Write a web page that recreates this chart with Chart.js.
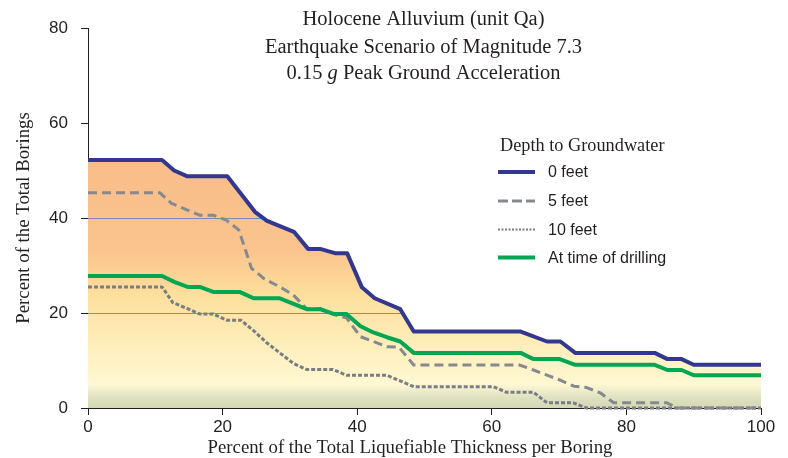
<!DOCTYPE html>
<html><head><meta charset="utf-8">
<script src="https://cdn.jsdelivr.net/npm/chart.js@4"></script>
<style>html,body{margin:0;padding:0;background:#fff}</style>
</head><body>
<canvas id="c" width="788" height="458"></canvas>
<script>
const titleLine1 = "Holocene Alluvium (unit Qa)";
const titleLine2 = "Earthquake Scenario of Magnitude 7.3";
const titleLine3 = ["0.15 ", "g", " Peak Ground Acceleration"];
const legendTitle = "Depth to Groundwater";
const seriesNames = ["0 feet", "5 feet", "10 feet", "At time of drilling"];
const xAxisTitle = "Percent of the Total Liquefiable Thickness per Boring";
const yAxisTitle = "Percent of the Total Borings";
const xTickValues = [0, 20, 40, 60, 80, 100];
const yTickValues = [0, 20, 40, 60, 80];

const feet0X = [0, 11, 12.8, 14.7, 20.7, 24.8, 26.6, 30.6, 32.7, 34.5, 36.7, 38.5, 40.7, 42.6, 46.4, 48.4, 64.3, 68.2, 70.2, 72.4, 84.2, 86.1, 88.2, 90, 100];
const feet0Y = [52.2, 52.2, 50.0, 48.8, 48.8, 41.3, 39.4, 37.1, 33.5, 33.5, 32.6, 32.6, 25.4, 23.1, 20.8, 16.1, 16.1, 14.0, 14.0, 11.6, 11.6, 10.3, 10.3, 9.1, 9.1];

const feet5X = [0, 10.7, 12.4, 14.7, 16.6, 18.6, 20.5, 22.4, 24.3, 26.2, 28.5, 30.5, 32.5, 34.5, 36.7, 38.4, 40.5, 42.4, 44.4, 46.2, 48.4, 64.1, 66.2, 68.2, 70.1, 72.2, 74.1, 76.1, 78.1, 86.0, 87.5, 100];
const feet5Y = [45.3, 45.3, 43.1, 41.7, 40.6, 40.6, 39.6, 37.5, 29.4, 27.2, 25.5, 23.8, 20.9, 20.9, 19.6, 19.0, 15.0, 14.0, 12.9, 12.8, 9.05, 9.05, 8.0, 6.9, 5.9, 4.6, 4.3, 3.2, 1.1, 1.1, 0, 0];

const feet10X = [0, 11, 12.6, 14.8, 16.6, 18.6, 20.6, 22.7, 24.6, 26.5, 28.5, 30.5, 32.5, 36.4, 38.4, 44.4, 46.4, 48.4, 60.2, 62.2, 66.2, 68.2, 72.1, 74.1, 100];
const feet10Y = [25.5, 25.5, 22.2, 20.9, 19.8, 19.8, 18.5, 18.5, 16.3, 13.8, 11.6, 9.4, 8.1, 8.1, 6.9, 6.9, 5.7, 4.5, 4.5, 3.3, 3.3, 1.1, 1.1, 0, 0];

const drillX = [0, 11, 12.9, 14.8, 16.6, 18.7, 22.6, 24.6, 28.5, 32.5, 34.5, 36.5, 38.4, 40.5, 42.4, 44.4, 46.4, 48.4, 64.3, 66.2, 70.1, 72.4, 84.2, 86.1, 88.2, 90, 100];
const drillY = [27.8, 27.8, 26.5, 25.5, 25.5, 24.4, 24.4, 23.1, 23.1, 20.8, 20.8, 19.8, 19.8, 17.2, 15.9, 14.9, 14.0, 11.6, 11.6, 10.3, 10.3, 9.1, 9.1, 8.0, 8.0, 6.9, 6.9];

const pts = (xs, ys) => xs.map((x, i) => ({ x: x, y: ys[i] }));

const SERIF = "'Liberation Serif', 'Times New Roman', serif";
const SANS = "'Liberation Sans', Arial, sans-serif";
const TEXT = '#231F20';

function areaGradient(ctx) {
  const chart = ctx.chart;
  const ys = chart.scales.y;
  if (!chart.chartArea || !ys) return '#FAC08E';
  const top = ys.getPixelForValue(55), bot = ys.getPixelForValue(0);
  const g = chart.ctx.createLinearGradient(0, top, 0, bot);
  const p = v => (ys.getPixelForValue(v) - top) / (bot - top);
  g.addColorStop(0, '#F9BC88');
  g.addColorStop(p(33), '#FAC48E');
  g.addColorStop(p(24), '#FDDF9C');
  g.addColorStop(p(14), '#FEEDB8');
  g.addColorStop(p(5), '#FFF8D3');
  g.addColorStop(p(3.4), '#EBEBCB');
  g.addColorStop(p(2.2), '#DFE1C1');
  g.addColorStop(1, '#D3D8B5');
  return g;
}

const gridUnderFill = {
  id: 'gridUnderFill',
  beforeDatasetsDraw(chart) {
    const meta = chart.getDatasetMeta(0);
    const ys = chart.scales.y, ca = chart.chartArea, ctx = chart.ctx;
    const d = meta.data;
    if (!d.length) return;
    ctx.save();
    ctx.beginPath();
    ctx.moveTo(d[0].x, d[0].y);
    d.forEach(p => ctx.lineTo(p.x, p.y));
    ctx.lineTo(d[d.length - 1].x, ca.bottom);
    ctx.lineTo(d[0].x, ca.bottom);
    ctx.closePath();
    ctx.clip();
    ctx.strokeStyle = '#7E8DB8';
    ctx.lineWidth = 1;
    ys.ticks.forEach(t => {
      if (t.value <= 0 || t.value >= 80) return;
      const y = Math.round(ys.getPixelForValue(t.value)) + 0.5;
      ctx.beginPath();
      ctx.moveTo(ca.left, y);
      ctx.lineTo(ca.right, y);
      ctx.stroke();
    });
    ctx.restore();
  }
};

const titleLegend = {
  id: 'titleLegend',
  afterDraw(chart) {
    const ctx = chart.ctx, ca = chart.chartArea;
    ctx.save();
    ctx.fillStyle = TEXT;
    ctx.textBaseline = 'middle';
    const cx = (ca.left + ca.right) / 2 - 1;
    const tf = '20.5px ' + SERIF, tfi = 'italic 20.5px ' + SERIF;
    ctx.font = tf; ctx.textAlign = 'center';
    ctx.fillText(titleLine1, cx, ca.top - 8);
    ctx.fillText(titleLine2, cx, ca.top + 20);
    ctx.textAlign = 'left';
    const fonts = [tf, tfi, tf];
    let w = 0;
    titleLine3.forEach((s, i) => { ctx.font = fonts[i]; w += ctx.measureText(s).width; });
    let x = cx - w / 2;
    titleLine3.forEach((s, i) => { ctx.font = fonts[i]; ctx.fillText(s, x, ca.top + 46); x += ctx.measureText(s).width; });

    // x axis title
    ctx.textAlign = 'center';
    ctx.font = '18.8px ' + SERIF;
    ctx.fillText(xAxisTitle, ca.left + 322, ca.bottom + 40);

    // legend
    ctx.textAlign = 'left';
    const lx = ca.left + 410;
    ctx.font = '18.3px ' + SERIF;
    ctx.fillText(legendTitle, lx + 2, ca.top + 118);
    const rows = [144, 173, 201.5, 229.5];
    ctx.font = '16px ' + SANS;
    chart.data.datasets.forEach((ds, i) => {
      const y = ca.top + rows[i];
      ctx.save();
      ctx.strokeStyle = ds.borderColor;
      ctx.lineWidth = ds.legendWidth || ds.borderWidth;
      ctx.setLineDash(ds.legendDash || ds.borderDash || []);
      ctx.lineCap = 'butt';
      ctx.beginPath();
      ctx.moveTo(lx, y);
      ctx.lineTo(lx + 37, y);
      ctx.stroke();
      ctx.restore();
      ctx.fillStyle = TEXT;
      ctx.fillText(ds.label, lx + 50, y + 1);
    });
    ctx.restore();
  }
};

new Chart(document.getElementById('c'), {
  type: 'line',
  data: {
    datasets: [
      { label: seriesNames[0], data: pts(feet0X, feet0Y), borderColor: '#32388F', borderWidth: 4,
        fill: 'origin', backgroundColor: areaGradient, order: 0 },
      { label: seriesNames[1], data: pts(feet5X, feet5Y), borderColor: '#86898D', borderWidth: 3,
        borderDash: [9, 5], legendDash: [10, 4], fill: false, order: 2 },
      { label: seriesNames[2], data: pts(feet10X, feet10Y), borderColor: '#7A7D82', borderWidth: 3,
        borderDash: [4, 2], legendWidth: 2, legendDash: [2, 1.5], fill: false, order: 3 },
      { label: seriesNames[3], data: pts(drillX, drillY), borderColor: '#00A651', borderWidth: 4,
        fill: false, order: 1 }
    ]
  },
  options: {
    responsive: false,
    animation: false,
    devicePixelRatio: 1,
    layout: { padding: { top: 28, right: 27, left: 0, bottom: 0 } },
    elements: {
      point: { radius: 0, hoverRadius: 0 },
      line: { tension: 0, borderJoinStyle: 'round', borderCapStyle: 'butt' }
    },
    datasets: { line: { clip: false } },
    plugins: {
      legend: { display: false },
      tooltip: { enabled: false },
      title: { display: false },
      filler: { drawTime: 'beforeDatasetsDraw' }
    },
    scales: {
      x: {
        type: 'linear', min: 0, max: 100,
        afterFit: s => { s.height = 50; },
        afterBuildTicks: s => { s.ticks = xTickValues.map(v => ({ value: v })); },
        ticks: { font: { family: SANS, size: 17 }, color: TEXT, padding: 2, maxRotation: 0 },
        grid: { drawOnChartArea: false, drawTicks: true, tickLength: 7, color: '#231F20' },
        border: { display: true, color: '#231F20', width: 1 },
        title: { display: false }
      },
      y: {
        type: 'linear', min: 0, max: 80,
        afterFit: s => { s.width = 88; },
        afterBuildTicks: s => { s.ticks = yTickValues.map(v => ({ value: v })); },
        ticks: { font: { family: SANS, size: 17 }, color: TEXT, padding: 13 },
        grid: { drawOnChartArea: false, drawTicks: true, tickLength: 7, color: '#231F20' },
        border: { display: true, color: '#231F20', width: 1 },
        title: { display: true, text: yAxisTitle, font: { family: SERIF, size: 18.8 }, color: TEXT, padding: { top: 13, bottom: 0 } }
      }
    }
  },
  plugins: [gridUnderFill, titleLegend]
});
</script>
</body></html>
